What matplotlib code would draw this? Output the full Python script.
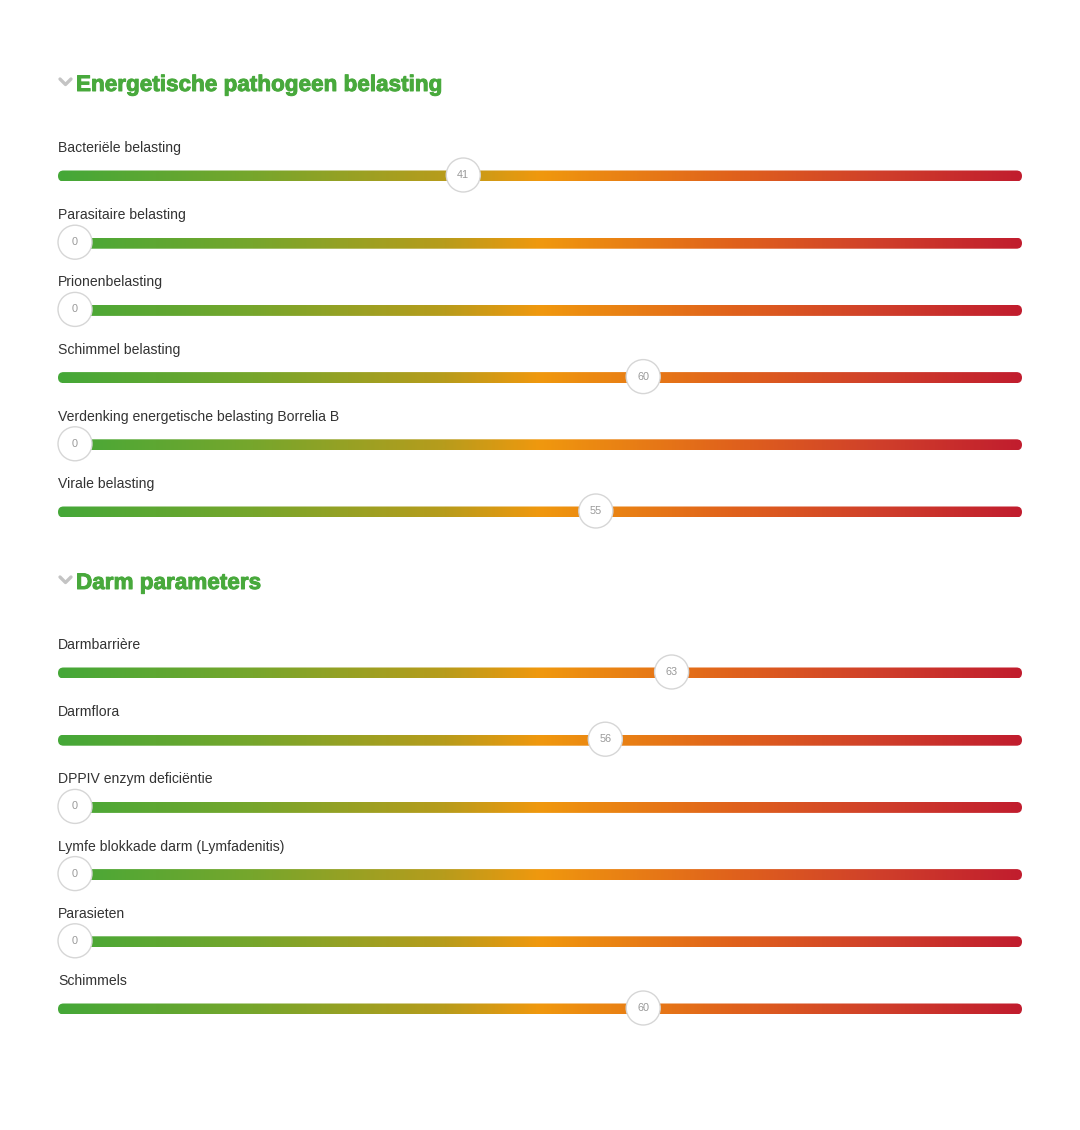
import numpy as np
import matplotlib
matplotlib.use('agg')
import matplotlib.pyplot as plt
import matplotlib.patheffects as pe
from matplotlib.colors import LinearSegmentedColormap
from matplotlib.patches import FancyBboxPatch, Circle

# section titles and slider rows
sections = ["Energetische pathogeen belasting", "Darm parameters"]
labels_1 = ["Bacteriële belasting", "Parasitaire belasting", "Prionenbelasting",
            "Schimmel belasting", "Verdenking energetische belasting Borrelia B",
            "Virale belasting"]
values_1 = [41, 0, 0, 60, 0, 55]
labels_2 = ["Darmbarrière", "Darmflora", "DPPIV enzym deficiëntie",
            "Lymfe blokkade darm (Lymfadenitis)", "Parasieten", "Schimmels"]
values_2 = [63, 56, 0, 0, 0, 60]

W, H = 1080, 1130
fig = plt.figure(figsize=(W / 100, H / 100), dpi=100)
ax = fig.add_axes([0, 0, 1, 1])
ax.set_xlim(0, W)
ax.set_ylim(H, 0)
ax.axis('off')

plt.rcParams['font.family'] = ['Liberation Sans', 'DejaVu Sans']

cmap = LinearSegmentedColormap.from_list("slider", [
    (0.0, "#45a838"), (0.2, "#76a62c"), (0.4, "#b79c1c"), (0.5, "#f0980e"),
    (0.7, "#e0621c"), (0.85, "#d0402a"), (1.0, "#c11d2e")])
grad = np.linspace(0, 1, 512).reshape(1, -1)

bar_x0, bar_x1 = 58, 1022
bar_h = 11
knob_x0, knob_scale = 75, 9.47
green = "#48a93c"


def draw_section(title, title_y, labels, values, first_y):
    # chevron + title
    ax.plot([60, 65.5, 71], [title_y - 4, title_y + 1.5, title_y - 4], color="#c4c4c4",
            lw=2.4, solid_capstyle='round', solid_joinstyle='round')
    t = ax.text(76, title_y + 2.5, title, color=green, fontsize=16.2, fontweight='bold',
                va='center', ha='left')
    t.set_path_effects([pe.withStroke(linewidth=0.7, foreground=green)])
    for i, (lab, val) in enumerate(zip(labels, values)):
        yb = first_y + i * 67.2
        ax.text(58, yb - 28, lab, fontsize=10.1, color="#333333", va='center', ha='left')
        box = FancyBboxPatch((bar_x0, yb - bar_h / 2), bar_x1 - bar_x0, bar_h,
                             boxstyle="round,pad=0,rounding_size=5.5",
                             facecolor='none', edgecolor='none')
        ax.add_patch(box)
        im = ax.imshow(grad, cmap=cmap, aspect='auto',
                       extent=(bar_x0, bar_x1, yb + bar_h / 2, yb - bar_h / 2),
                       interpolation='bilinear', zorder=2)
        im.set_clip_path(box)
        kx = knob_x0 + val * knob_scale
        ax.add_patch(Circle((kx, yb - 1), 17, facecolor='white', edgecolor='#d6d6d6',
                            lw=1.0, zorder=3))
        ax.text(kx, yb - 1, str(val), fontsize=7.8, color="#999999",
                ha='center', va='center', zorder=4)


draw_section(sections[0], 83, labels_1, values_1, 176)
draw_section(sections[1], 581, labels_2, values_2, 673)

fig.savefig("out.png", dpi=100, facecolor='white')
